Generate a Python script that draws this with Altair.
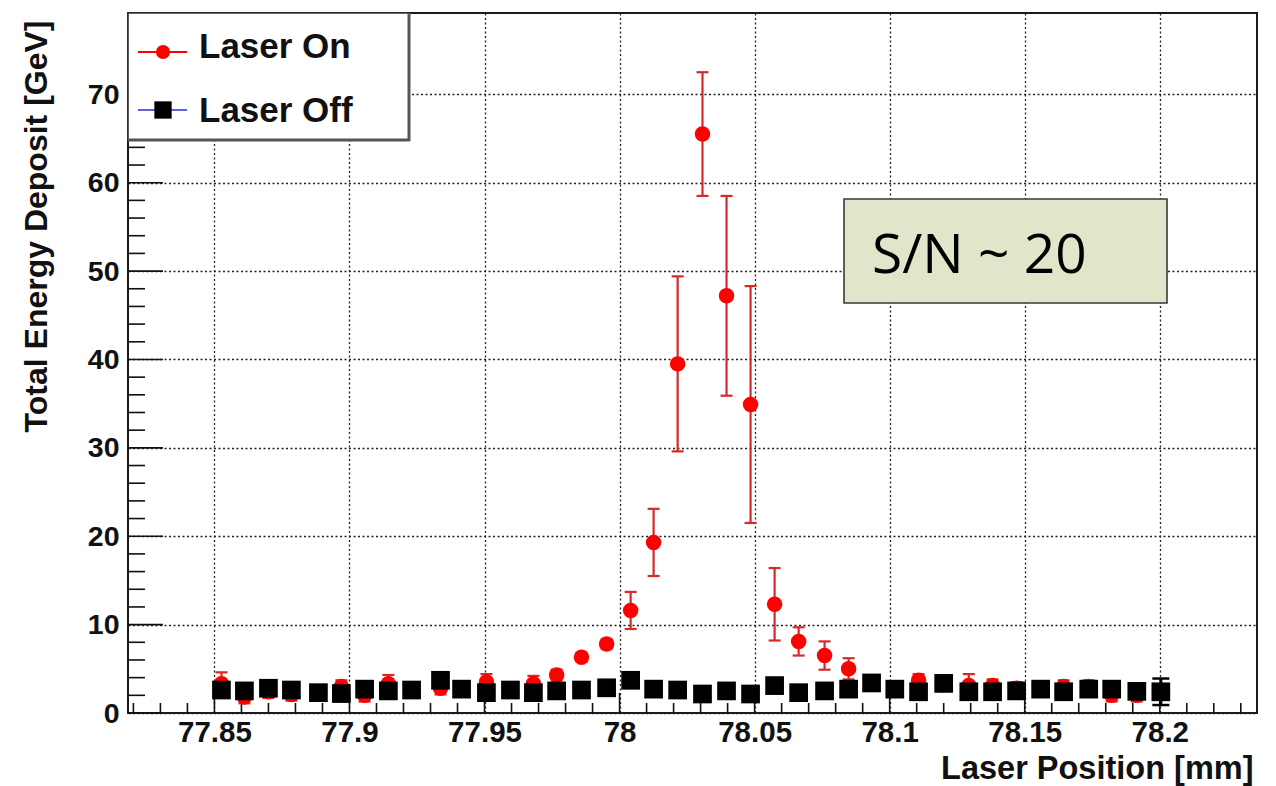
import altair as alt
import pandas as pd

# ---------------- data ----------------
positions = [77.8526, 77.8611, 77.8700, 77.8785, 77.8885, 77.8970, 77.9056, 77.9144,
             77.9230, 77.9337, 77.9415, 77.9507, 77.9596, 77.9681, 77.9767, 77.9859,
             77.9952, 78.0041, 78.0126, 78.0215, 78.0307, 78.0396, 78.0485, 78.0574,
             78.0663, 78.0759, 78.0848, 78.0933, 78.1019, 78.1107, 78.1200, 78.1293,
             78.1381, 78.1470, 78.1559, 78.1644, 78.1737, 78.1822, 78.1915, 78.2004]

laser_on = [3.3, 1.8, 2.4, 2.1, 2.4, 3.0, 2.0, 3.3, 2.6, 2.8,
            2.6, 3.5, 2.6, 3.3, 4.3, 6.3, 7.8, 11.6, 19.3, 39.5,
            65.5, 47.2, 34.9, 12.3, 8.1, 6.5, 5.0, 3.3, 2.55, 3.7,
            3.2, 3.1, 3.1, 2.8, 2.6, 3.0, 3.0, 2.0, 2.0, 2.4]
laser_on_err = [1.3, 0.7, 0.7, 0.7, 0.7, 0.7, 0.7, 1.0, 0.7, 0.7,
                0.7, 0.9, 0.7, 0.9, 0.6, 0.5, 0.5, 2.1, 3.8, 9.9,
                7.0, 11.3, 13.4, 4.1, 1.6, 1.6, 1.2, 0.7, 0.7, 0.7,
                0.7, 1.3, 0.7, 0.7, 0.7, 0.7, 0.7, 0.7, 0.7, 0.7]

laser_off = [2.6, 2.5, 2.8, 2.6, 2.3, 2.2, 2.7, 2.5, 2.6, 3.7,
             2.7, 2.3, 2.6, 2.3, 2.5, 2.6, 2.85, 3.7, 2.7, 2.6,
             2.15, 2.5, 2.15, 3.1, 2.3, 2.5, 2.7, 3.4, 2.7, 2.4,
             3.35, 2.4, 2.4, 2.5, 2.7, 2.4, 2.7, 2.7, 2.45, 2.4]
laser_off_err = [0.5, 0.5, 0.5, 0.5, 0.5, 0.5, 0.5, 0.5, 0.5, 0.5,
                 0.5, 0.5, 0.5, 0.5, 0.5, 0.5, 0.5, 0.5, 0.5, 0.5,
                 0.5, 0.5, 0.5, 0.5, 0.5, 0.5, 0.5, 0.5, 0.5, 0.5,
                 0.5, 0.5, 0.5, 0.5, 0.5, 0.5, 0.5, 0.5, 0.5, 1.5]

x_major = [77.85, 77.9, 77.95, 78.0, 78.05, 78.1, 78.15, 78.2]
x_minor = [77.82, 77.83, 77.84, 77.86, 77.87, 77.88, 77.89, 77.91, 77.92, 77.93,
           77.94, 77.96, 77.97, 77.98, 77.99, 78.01, 78.02, 78.03, 78.04, 78.06,
           78.07, 78.08, 78.09, 78.11, 78.12, 78.13, 78.14, 78.16, 78.17, 78.18,
           78.19, 78.21, 78.22, 78.23]
y_major = [0, 10, 20, 30, 40, 50, 60, 70]
y_minor = [2, 4, 6, 8, 12, 14, 16, 18, 22, 24, 26, 28, 32, 34, 36, 38, 42, 44, 46, 48,
           52, 54, 56, 58, 62, 64, 66, 68, 72, 74, 76, 78]

legend_labels = ["Laser On", "Laser Off"]
annotation = ["S/N ~ 20"]
x_title = "Laser Position [mm]"
y_title = "Total Energy Deposit [GeV]"

# ---------------- tables ----------------
df = pd.DataFrame({"pos": positions, "on": laser_on, "on_err": laser_on_err,
                   "off": laser_off, "off_err": laser_off_err})
df["on_lo"] = df["on"] - df["on_err"]
df["on_hi"] = df["on"] + df["on_err"]
df["off_lo"] = df["off"] - df["off_err"]
df["off_hi"] = df["off"] + df["off_err"]

FONT = "Liberation Sans"
RED = "#FF0000"
ERR_RED = "#D42A2A"

xscale = alt.Scale(domain=[77.818, 78.236], nice=False, zero=False)
yscale = alt.Scale(domain=[0, 79.2], nice=False, zero=False)

xaxis = alt.Axis(values=x_major, format=".2~f", grid=True, gridDash=[2, 2.5],
                 gridColor="#222", gridWidth=1.3, domain=False, ticks=False,
                 labelFont=FONT, labelFontWeight="bold", labelFontSize=29.5,
                 labelColor="#111", labelPadding=5, labelFlush=False,
                 title=x_title, titleFont=FONT, titleFontWeight="bold",
                 titleFontSize=32.5, titleColor="#111", titleAnchor="end",
                 titleAlign="right", titleBaseline="alphabetic",
                 titleX=1125, titleY=65)
yaxis = alt.Axis(values=y_major, format="d", grid=True, gridDash=[2, 2.5],
                 gridColor="#222", gridWidth=1.3, domain=False, ticks=False,
                 labelFont=FONT, labelFontWeight="bold", labelFontSize=28.5,
                 labelColor="#111", labelPadding=9, labelFlush=False,
                 title=y_title, titleFont=FONT, titleFontWeight="bold",
                 titleFontSize=32, titleColor="#111", titleAngle=270,
                 titleAlign="right", titleBaseline="alphabetic",
                 titleX=-82, titleY=7)


def X(field):
    return alt.X(field, type="quantitative", scale=xscale, axis=xaxis)


def Y(field):
    return alt.Y(field, type="quantitative", scale=yscale, axis=yaxis)


base = alt.Chart(df)

# ticks (inward, ROOT style)
ymaj = alt.Chart(pd.DataFrame({"v": y_major})).mark_rule(color="#111", strokeWidth=1.6).encode(
    y=Y("v"), x=alt.value(0), x2=alt.value(35))
ymin = alt.Chart(pd.DataFrame({"v": y_minor})).mark_rule(color="#111", strokeWidth=1.6).encode(
    y=Y("v"), x=alt.value(0), x2=alt.value(17))
xmaj = alt.Chart(pd.DataFrame({"v": x_major})).mark_rule(color="#111", strokeWidth=1.6).encode(
    x=X("v"), y=alt.value(700), y2=alt.value(680))
xmin = alt.Chart(pd.DataFrame({"v": x_minor})).mark_rule(color="#111", strokeWidth=1.6).encode(
    x=X("v"), y=alt.value(700), y2=alt.value(690))

# laser on
on_bar = base.mark_rule(color=ERR_RED, strokeWidth=2.2).encode(
    x=X("pos"), y=Y("on_lo"), y2="on_hi:Q")
on_cap_hi = base.mark_tick(orient="horizontal", size=12, thickness=2.2, color=ERR_RED, opacity=1).encode(
    x=X("pos"), y=Y("on_hi"))
on_cap_lo = base.mark_tick(orient="horizontal", size=12, thickness=2.2, color=ERR_RED, opacity=1).encode(
    x=X("pos"), y=Y("on_lo"))
on_pts = base.mark_point(shape="circle", filled=True, size=240, color=RED, opacity=1).encode(
    x=X("pos"), y=Y("on"))

# laser off
off_bar = base.mark_rule(color="black", strokeWidth=3).encode(
    x=X("pos"), y=Y("off_lo"), y2="off_hi:Q")
off_cap_hi = base.mark_tick(orient="horizontal", size=17, thickness=2.5, color="black", opacity=1).encode(
    x=X("pos"), y=Y("off_hi"))
off_cap_lo = base.mark_tick(orient="horizontal", size=17, thickness=2.5, color="black", opacity=1).encode(
    x=X("pos"), y=Y("off_lo"))
off_pts = base.mark_point(shape="square", filled=True, size=350, color="black", opacity=1).encode(
    x=X("pos"), y=Y("off"))

# legend box (ROOT style, top-left)
one = pd.DataFrame({"a": [0]})
leg_box = alt.Chart(one).mark_rect(fill="white", stroke="#333", strokeWidth=1.6).encode(
    x=alt.value(0), x2=alt.value(281), y=alt.value(0), y2=alt.value(127))
leg_sh_r = alt.Chart(one).mark_rule(color="#555", strokeWidth=3).encode(
    x=alt.value(281), y=alt.value(0), y2=alt.value(128))
leg_sh_b = alt.Chart(one).mark_rule(color="#555", strokeWidth=3).encode(
    x=alt.value(0), x2=alt.value(282), y=alt.value(127))
leg_line_on = alt.Chart(one).mark_rule(color=RED, strokeWidth=2).encode(
    x=alt.value(10), x2=alt.value(59), y=alt.value(39))
leg_line_off = alt.Chart(one).mark_rule(color="#2b2bd0", strokeWidth=1.5).encode(
    x=alt.value(10), x2=alt.value(59), y=alt.value(97))
leg_pt_on = alt.Chart(one).mark_point(shape="circle", filled=True, size=200, color=RED, opacity=1).encode(
    x=alt.value(35), y=alt.value(39))
leg_pt_off = alt.Chart(one).mark_point(shape="square", filled=True, size=300, color="black", opacity=1).encode(
    x=alt.value(35), y=alt.value(97))
leg_txt_on = alt.Chart(pd.DataFrame({"t": [legend_labels[0]]})).mark_text(
    align="left", baseline="alphabetic", font=FONT, fontWeight="bold", fontSize=35, color="#111").encode(
    text="t:N", x=alt.value(71), y=alt.value(45))
leg_txt_off = alt.Chart(pd.DataFrame({"t": [legend_labels[1]]})).mark_text(
    align="left", baseline="alphabetic", font=FONT, fontWeight="bold", fontSize=35, color="#111").encode(
    text="t:N", x=alt.value(71), y=alt.value(109))

# S/N annotation box
sn_box = alt.Chart(one).mark_rect(fill="#DFE6CA", stroke="#3a3a3a", strokeWidth=1.6).encode(
    x=alt.value(716), x2=alt.value(1039), y=alt.value(186), y2=alt.value(290))
sn_txt = alt.Chart(pd.DataFrame({"t": annotation})).mark_text(
    align="left", baseline="alphabetic", font="Open Sans", fontSize=55, color="black").encode(
    text="t:N", x=alt.value(744), y=alt.value(260))

chart = alt.layer(
    on_bar, ymaj, ymin, xmaj, xmin,
    on_cap_hi, on_cap_lo, on_pts,
    off_bar, off_cap_hi, off_cap_lo, off_pts,
    leg_box, leg_sh_r, leg_sh_b, leg_line_on, leg_line_off, leg_pt_on, leg_pt_off,
    leg_txt_on, leg_txt_off, sn_box, sn_txt
).properties(
    width=1129, height=700,
    autosize=alt.AutoSizeParams(type="none"),
    padding={"left": 128, "top": 13, "right": 19, "bottom": 73},
    background="white"
).configure_view(stroke="#1a1a1a", strokeWidth=2)

chart.save("out.html", embed_options={"renderer": "svg", "actions": False})
